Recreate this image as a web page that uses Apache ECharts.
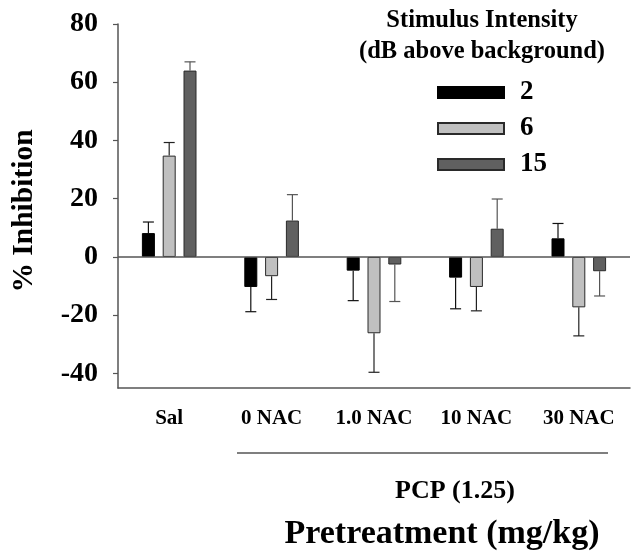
<!DOCTYPE html>
<html>
<head>
<meta charset="utf-8">
<script src="https://cdn.jsdelivr.net/npm/echarts@6/dist/echarts.min.js"></script>
<style>html,body{margin:0;padding:0;background:#fff;}#c{width:631px;height:556px;}</style>
</head>
<body>
<div id="c"></div>
<script>
const categories = ['Sal', '0 NAC', '1.0 NAC', '10 NAC', '30 NAC'];
const seriesNames = ['2', '6', '15'];
const values2 = [8.2, -10.3, -4.7, -7.1, 6.4];
const values6 = [34.8, -6.6, -26.2, -10.3, -17.3];
const values15 = [64.0, 12.5, -2.6, 9.7, -4.9];
const errors2 = [3.8, 8.5, 10.3, 10.7, 5.1];
const errors6 = [4.5, 8.0, 13.4, 8.2, 9.8];
const errors15 = [3.0, 8.9, 12.7, 10.2, 8.5];
const yTicks = [-40, -20, 0, 20, 40, 60, 80];

const FONT = 'Liberation Serif';
const barW = 13, barGapPx = 7.8;
const fills = ['#000000', '#c0c0c0', '#606060'];
const borders = ['#000000', '#2a2a2a', '#2a2a2a'];
const errColors = ['#111111', '#222222', '#555555'];
const allVals = [values2, values6, values15];
const allErrs = [errors2, errors6, errors15];

const chart = echarts.init(document.getElementById('c'), null, {renderer: 'canvas'});

function errSeries(k) {
  const n = allVals.length;
  const offset = (k - (n - 1) / 2) * (barW + barGapPx);
  return {
    type: 'custom',
    name: seriesNames[k] + '_err',
    z: 1,
    silent: true,
    data: allVals[k].map((v, i) => [i, v, allErrs[k][i]]),
    renderItem: function (params, api) {
      const i = api.value(0), v = api.value(1), e = api.value(2);
      const end = v >= 0 ? v + e : v - e;
      const p0 = api.coord([i, v]);
      const p1 = api.coord([i, end]);
      const x = p0[0] + offset;
      const cap = 5.5;
      const style = {stroke: errColors[k], lineWidth: 1.2};
      return {
        type: 'group',
        children: [
          {type: 'line', shape: {x1: x, y1: p0[1], x2: x, y2: p1[1]}, style: style},
          {type: 'line', shape: {x1: x - cap, y1: p1[1], x2: x + cap, y2: p1[1]}, style: style}
        ]
      };
    }
  };
}

const barSeries = allVals.map((vals, k) => ({
  type: 'bar',
  name: seriesNames[k],
  data: vals,
  barWidth: barW,
  barGap: (barGapPx / barW * 100).toFixed(0) + '%',
  z: 2,
  itemStyle: {color: fills[k], borderColor: borders[k], borderWidth: 1},
  markLine: k === 0 ? {
    silent: true,
    symbol: 'none',
    label: {show: false},
    lineStyle: {color: '#555555', width: 1.5, type: 'solid'},
    data: [{yAxis: 0}]
  } : undefined
}));

const option = {
  animation: false,
  backgroundColor: '#ffffff',
  grid: {left: 118, right: 1, top: 24, bottom: 168, containLabel: false},
  legend: {
    data: seriesNames.map(n => ({name: n, icon: 'rect'})),
    orient: 'vertical',
    left: 432,
    top: 74,
    itemWidth: 66,
    itemHeight: 11,
    itemGap: 9,
    textStyle: {fontFamily: FONT, fontWeight: 'bold', fontSize: 27, color: '#000', lineHeight: 25, padding: [0, 0, 0, 11]},
    selectedMode: false
  },
  xAxis: {
    type: 'category',
    data: categories,
    axisLine: {onZero: false, lineStyle: {color: '#555555', width: 1.5}},
    axisTick: {alignWithLabel: true, length: 4, lineStyle: {color: '#555555', width: 1.2}},
    axisLabel: {fontFamily: FONT, fontWeight: 'bold', fontSize: 21, color: '#000', margin: 20},
    splitLine: {show: false}
  },
  yAxis: {
    type: 'value',
    min: -45,
    max: 80,
    interval: 5,
    axisLine: {show: true, lineStyle: {color: '#555555', width: 1.5}},
    axisTick: {show: true, length: 5, customValues: yTicks, lineStyle: {color: '#555555', width: 1.2}},
    axisLabel: {fontFamily: FONT, fontWeight: 'bold', fontSize: 28, color: '#000', margin: 20, customValues: yTicks},
    splitLine: {show: false}
  },
  graphic: [
    {type: 'text', x: 24, y: 211, rotation: Math.PI / 2,
     style: {text: '% Inhibition', fontFamily: FONT, fontWeight: 'bold', fontSize: 29.5, fill: '#000', textAlign: 'center', textVerticalAlign: 'middle'}},
    {type: 'text', x: 482, y: 21,
     style: {text: 'Stimulus Intensity', fontFamily: FONT, fontWeight: 'bold', fontSize: 24.5, fill: '#000', textAlign: 'center', textVerticalAlign: 'middle'}},
    {type: 'text', x: 482, y: 52,
     style: {text: '(dB above background)', fontFamily: FONT, fontWeight: 'bold', fontSize: 24.5, fill: '#000', textAlign: 'center', textVerticalAlign: 'middle'}},
    {type: 'line', shape: {x1: 237, y1: 453, x2: 608, y2: 453}, style: {stroke: '#555555', lineWidth: 1.5}},
    {type: 'text', x: 455, y: 491,
     style: {text: 'PCP (1.25)', fontFamily: FONT, fontWeight: 'bold', fontSize: 26, fill: '#000', textAlign: 'center', textVerticalAlign: 'middle'}},
    {type: 'text', x: 442, y: 534,
     style: {text: 'Pretreatment (mg/kg)', fontFamily: FONT, fontWeight: 'bold', fontSize: 34, fill: '#000', textAlign: 'center', textVerticalAlign: 'middle'}}
  ],
  series: barSeries.concat([errSeries(0), errSeries(1), errSeries(2)])
};
chart.setOption(option);
</script>
</body>
</html>
